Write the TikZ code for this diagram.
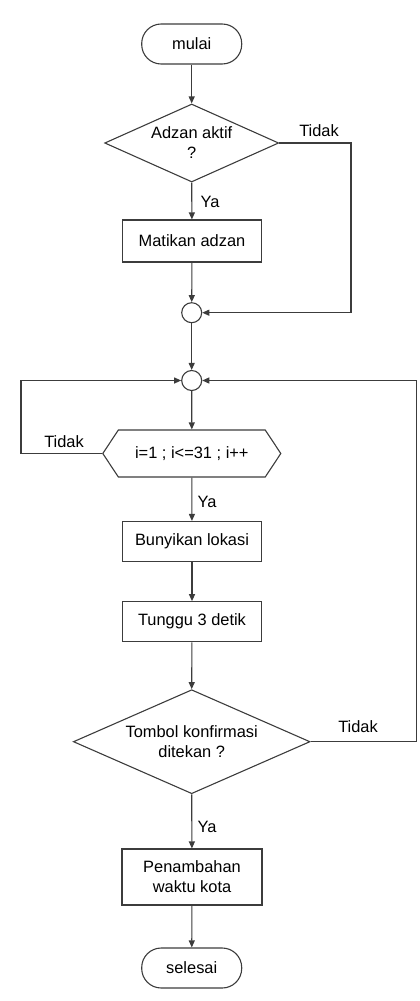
\documentclass[tikz,border=0pt]{standalone}
\usepackage{fontspec}
\setmainfont{Liberation Sans}
\usetikzlibrary{arrows.meta,shapes.geometric,shapes.symbols}
\definecolor{ink}{RGB}{60,60,60}
\begin{document}
\begin{tikzpicture}[x=1pt,y=-1pt,
  every node/.style={font=\fontsize{16.4}{20}\selectfont},
  term/.style={draw=ink,line width=1.1pt,rounded corners=19.5pt,minimum width=100pt,minimum height=40pt,inner sep=0pt},
  proc/.style={draw=ink,line width=1.1pt,minimum width=139pt,minimum height=40pt,inner sep=0pt,align=center},
  decide/.style={draw=ink,line width=1.1pt,diamond,aspect=2.2,inner sep=0pt,align=center},
  loopbox/.style={draw=ink,line width=1.1pt,signal,signal to=east and west,signal pointer angle=113,minimum width=178pt,minimum height=47pt,inner sep=0pt},
  joint/.style={draw=ink,line width=1.1pt,circle,minimum size=20pt,inner sep=0pt},
  flow/.style={draw=ink,line width=1.1pt,-{Triangle[length=7pt,width=6pt]}},
  lbl/.style={inner sep=0pt}
]
\useasboundingbox (0,0) rectangle (420,1001);

% process nodes
\node[term] (start) at (191.7,44) {mulai};
\node[decide,minimum width=174pt,minimum height=78pt] (adzan) at (191.7,143) {Adzan aktif\\?};
\node[proc,minimum height=42pt] (mute) at (192,241) {Matikan adzan};
\node[joint] (j1) at (191.7,312.7) {};
\node[joint] (j2) at (191.7,380.5) {};
\node[loopbox] (loop) at (191.8,453.5) {i=1 ; i<=31 ; i++};
\node[proc] (sound) at (192,541.5) {Bunyikan lokasi};
\node[proc] (wait) at (192,621.7) {Tunggu 3 detik};
\node[decide,minimum width=236.7pt,minimum height=104pt] (confirm) at (191.7,741.7) {Tombol konfirmasi\\ditekan ?};
\node[proc,minimum width=140pt,minimum height=56pt] (addtime) at (192,877) {Penambahan\\waktu kota};
\node[term] (stop) at (191.7,968) {selesai};

% corner points of the return paths
\coordinate (r1a) at (351,143);
\coordinate (r1b) at (351,312.7);
\coordinate (l2a) at (21,453.5);
\coordinate (l2b) at (21,380.5);
\coordinate (r3a) at (416.7,741.7);
\coordinate (r3b) at (416.7,380.5);

% connectors
\draw[flow] (start) -- (adzan.north);
\draw[flow] (adzan.south) -- (mute);
\draw[flow] (mute) -- (j1);
\draw[flow] (adzan.east) -- (r1a) -- (r1b) -- (j1.east);
\draw[flow] (j1) -- (j2);
\draw[flow] (j2) -- (loop.north);
\draw[flow] (loop.west) -- (l2a) -- (l2b) -- (j2.west);
\draw[flow] (loop.south) -- (sound);
\draw[flow] (sound) -- (wait);
\draw[flow] (wait) -- (confirm.north);
\draw[flow] (confirm.east) -- (r3a) -- (r3b) -- (j2.east);
\draw[flow] (confirm.south) -- (addtime);
\draw[flow] (addtime) -- (stop);

% branch labels
\node[lbl] (no1) at (319,131) {Tidak};
\node[lbl] (yes1) at (210,202) {Ya};
\node[lbl] (no2) at (64,442) {Tidak};
\node[lbl] (yes2) at (207,502) {Ya};
\node[lbl] (no3) at (358,727) {Tidak};
\node[lbl] (yes3) at (207,827) {Ya};
\end{tikzpicture}
\end{document}
